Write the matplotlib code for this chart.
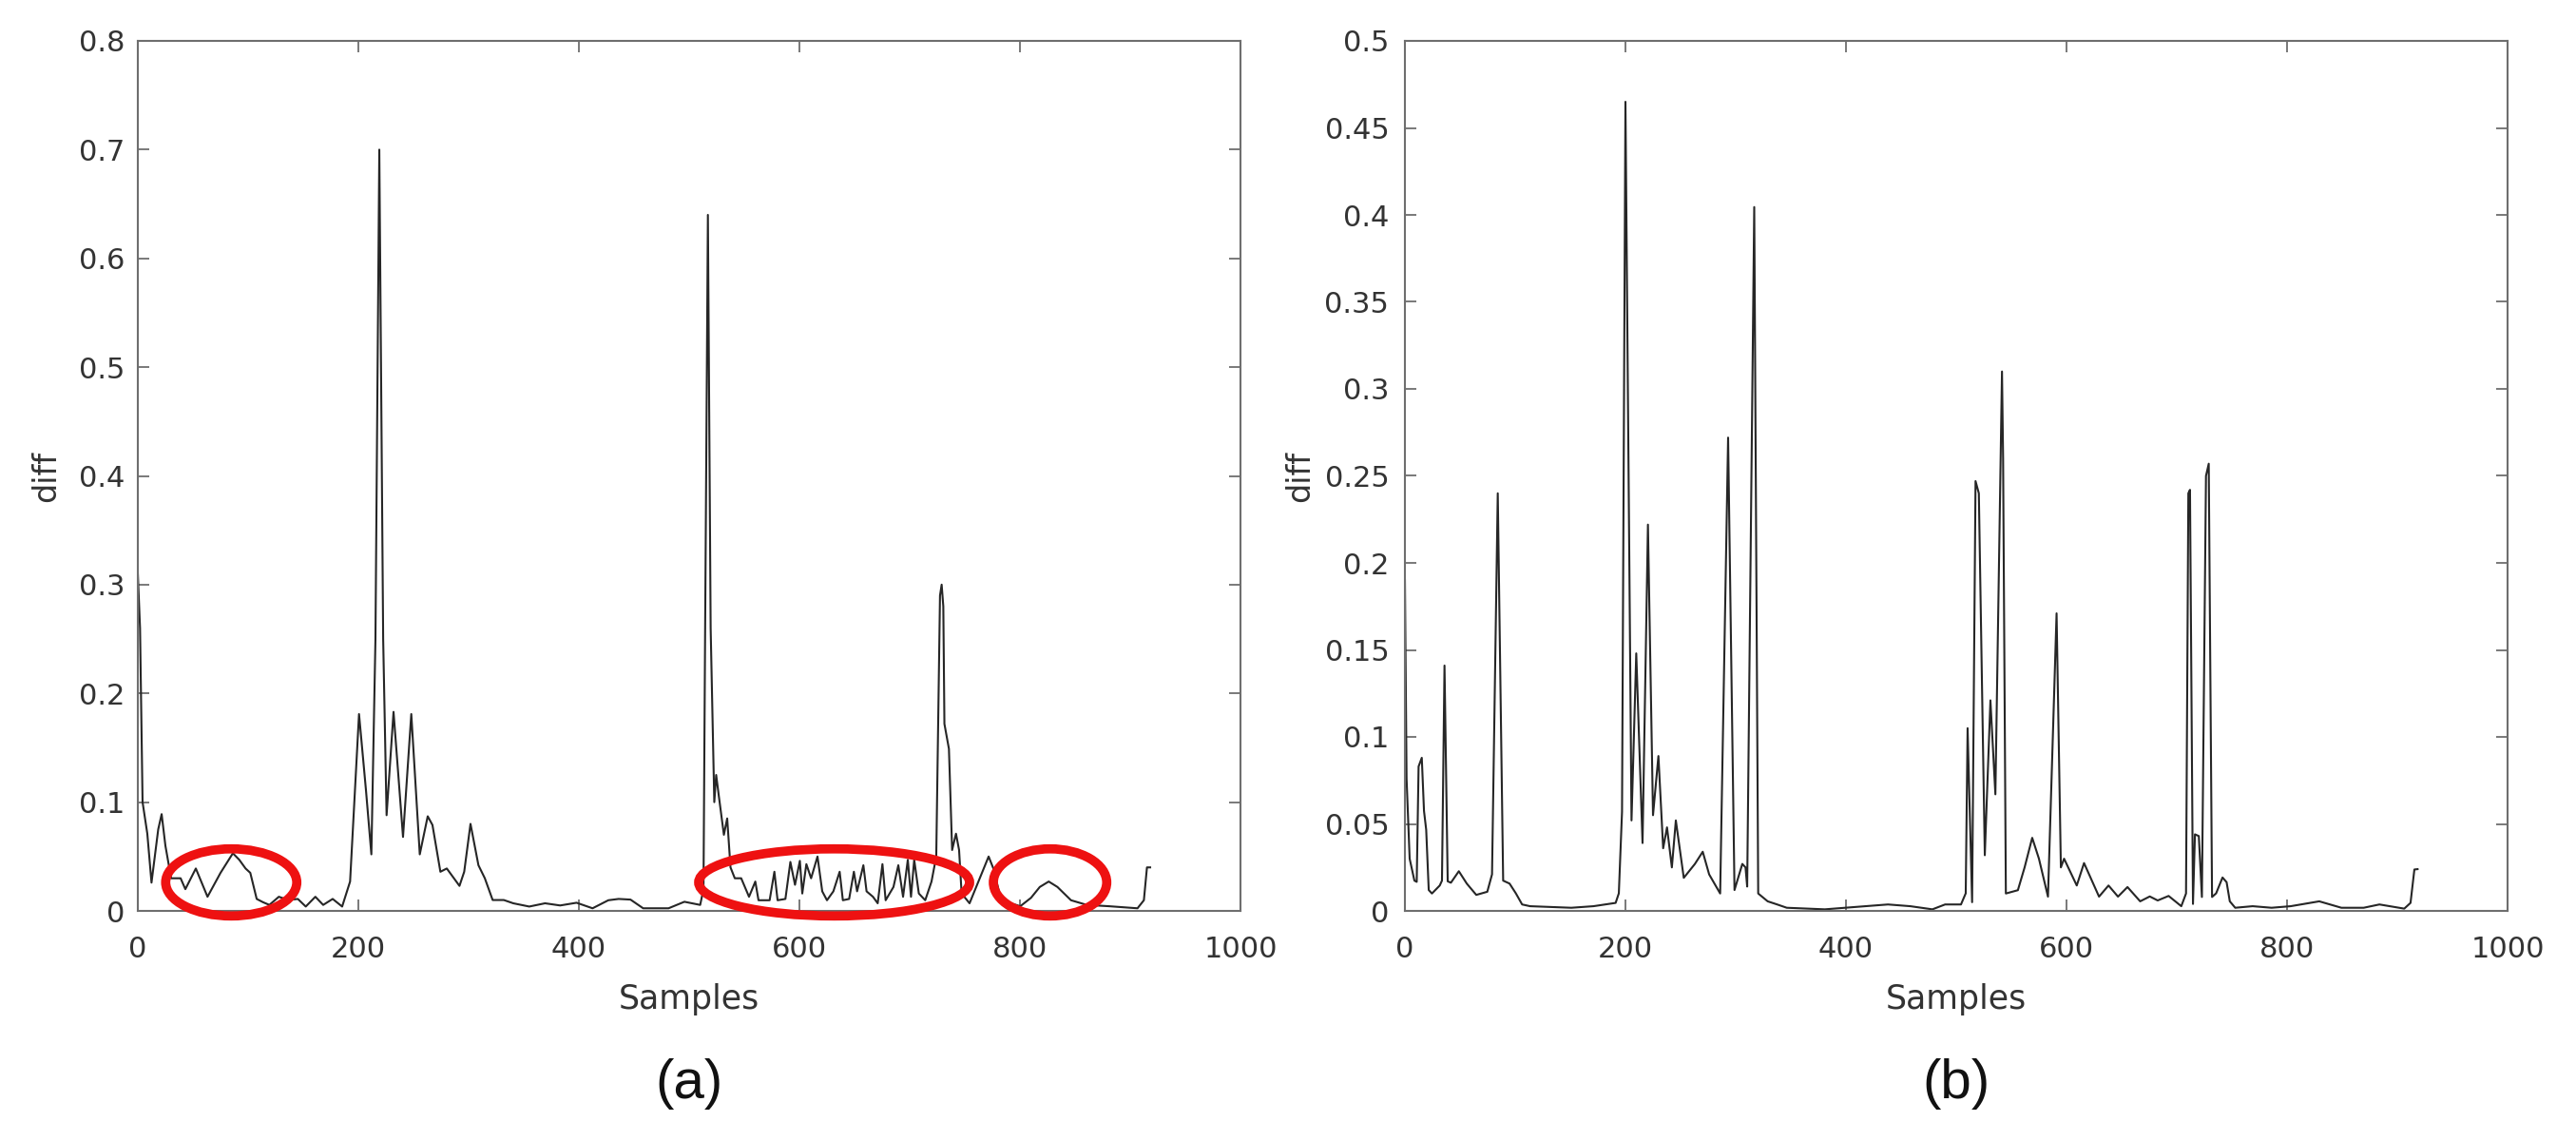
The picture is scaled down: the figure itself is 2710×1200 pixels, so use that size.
import matplotlib
matplotlib.use("Agg")
import matplotlib.pyplot as plt
from matplotlib.patches import Ellipse
from matplotlib.ticker import FuncFormatter, MultipleLocator

# panel (a): diff vs samples
a_samples = [0, 2, 4.3, 8.6, 12.4, 18.5, 21.6, 25, 30.2, 38.8, 43.1, 52.6, 63.2, 75, 86.2, 92,
             97.7, 102, 107.8, 113.5, 119.3, 127.9, 136.5, 145.1, 152.3, 161, 168.1, 176.7,
             185.3, 192.5, 196.8, 200.6, 206.9, 211.8, 215.5, 219, 222.5, 225.6, 231.9, 240.5,
             248, 255.7, 262.9, 267.2, 274.4, 280.2, 291.7, 296, 301.7, 308.9, 314.7, 321.8,
             331.9, 340.5, 355, 369.3, 383, 397.9, 412.4, 426.7, 436, 446.8, 458.3, 481.3,
             495.7, 510, 513, 514.5, 517, 519.5, 522.8, 524.5, 527, 531.5, 534.5, 537.5, 541.4,
             547.2, 554.3, 560, 562.9, 573, 577.3, 580.2, 587.3, 591.8, 596, 600.4, 602.6,
             606.3, 610.6, 616.4, 620.7, 625, 630.8, 636.5, 639.4, 645.1, 649.4, 652.3, 658,
             660.9, 666.7, 671, 675.3, 678.2, 685.3, 689.7, 694, 698.3, 701.2, 704.1, 708.3,
             714.1, 719.8, 724.1, 727.5, 729, 730.5, 731.5, 735.6, 738.5, 742, 744.8, 747.1,
             754.3, 771.6, 775.9, 783, 800.3, 810, 818, 826.1, 834, 846.3, 860.6, 880.7, 906.6,
             912.4, 915.2, 918.1]
a_diff = [0.31, 0.26, 0.10, 0.071, 0.026, 0.075, 0.089, 0.06, 0.030, 0.030, 0.020, 0.039, 0.013,
          0.035, 0.053, 0.047, 0.039, 0.035, 0.011, 0.008, 0.0055, 0.013, 0.010, 0.011, 0.004,
          0.013, 0.0055, 0.011, 0.004, 0.027, 0.108, 0.181, 0.111, 0.052, 0.25, 0.70, 0.25,
          0.088, 0.183, 0.068, 0.181, 0.052, 0.087, 0.079, 0.036, 0.039, 0.023, 0.036, 0.080,
          0.042, 0.030, 0.010, 0.010, 0.007, 0.004, 0.007, 0.005, 0.0075, 0.0024, 0.0098,
          0.011, 0.0104, 0.0024, 0.0024, 0.0084, 0.0055, 0.02, 0.26, 0.64, 0.26, 0.100, 0.125,
          0.105, 0.070, 0.085, 0.040, 0.030, 0.030, 0.013, 0.027, 0.0098, 0.0098, 0.036,
          0.0098, 0.011, 0.045, 0.024, 0.046, 0.016, 0.043, 0.030, 0.050, 0.018, 0.0098, 0.018,
          0.036, 0.0098, 0.011, 0.036, 0.018, 0.042, 0.018, 0.013, 0.007, 0.043, 0.0098, 0.022,
          0.042, 0.013, 0.047, 0.013, 0.047, 0.016, 0.0098, 0.027, 0.05, 0.29, 0.30, 0.28,
          0.172, 0.149, 0.056, 0.071, 0.056, 0.016, 0.007, 0.05, 0.039, 0.0098, 0.0043, 0.012,
          0.022, 0.027, 0.022, 0.0098, 0.0055, 0.0043, 0.0024, 0.0098, 0.040, 0.040]

# panel (b): diff vs samples
b_samples = [0, 1.5, 4.3, 8.6, 10.7, 12.4, 15.3, 17.3, 19.3, 21.6, 24.5, 31.6, 33.6, 35.9, 38.8,
             41.7, 48.9, 56.1, 64.7, 74.7, 79, 84.2, 89.1, 94.9, 100.6, 106.3, 113.5, 150.9,
             171, 191.1, 194, 196.9, 200, 205.5, 209.8, 215.5, 220.4, 225, 229.9, 234.2, 237.7,
             242.1, 245.7, 252.9, 263, 270.1, 275.9, 285.9, 293.1, 298.9, 306, 308.9, 310.4,
             316.8, 320.4, 329, 337.6, 346.3, 380.8, 438.1, 458.3, 478.4, 489.9, 504.3, 508.6,
             510.3, 514.4, 517.5, 520.5, 525.9, 531, 535.5, 541.5, 542.5, 545, 555.9, 562,
             568.9, 575, 583.2, 591, 594.9, 597.8, 609.3, 615.9, 629.5, 638.1, 646.7, 655.3,
             666.8, 675.5, 682.7, 692.6, 704.1, 708.4, 710.5, 712, 714.7, 716.5, 720, 722.8,
             726.5, 729, 732, 735.7, 741.5, 745.2, 748.1, 753, 768.8, 786, 803.3, 829.2, 849.3,
             869.5, 883.8, 906.3, 912, 915.5, 918.4]
b_diff = [0.19, 0.076, 0.030, 0.0174, 0.0167, 0.083, 0.088, 0.0575, 0.0466, 0.012, 0.010, 0.0146,
          0.0174, 0.141, 0.017, 0.0162, 0.0228, 0.0157, 0.0092, 0.011, 0.021, 0.24, 0.0174,
          0.0157, 0.0101, 0.0037, 0.0027, 0.0018, 0.0027, 0.0046, 0.0101, 0.057, 0.465, 0.052,
          0.148, 0.039, 0.222, 0.055, 0.089, 0.036, 0.048, 0.025, 0.052, 0.019, 0.027, 0.034,
          0.021, 0.010, 0.272, 0.012, 0.027, 0.025, 0.014, 0.4045, 0.010, 0.0055, 0.0037,
          0.0018, 0.0009, 0.0037, 0.0027, 0.0009, 0.0037, 0.0037, 0.0101, 0.105, 0.005, 0.247,
          0.24, 0.032, 0.121, 0.067, 0.31, 0.26, 0.01, 0.0119, 0.025, 0.042, 0.03, 0.0082,
          0.171, 0.025, 0.030, 0.0146, 0.0275, 0.0082, 0.0146, 0.0082, 0.0137, 0.0055, 0.0083,
          0.006, 0.0086, 0.0027, 0.01, 0.24, 0.242, 0.004, 0.044, 0.043, 0.008, 0.25, 0.257,
          0.008, 0.0101, 0.0192, 0.0165, 0.0055, 0.0018, 0.0027, 0.0018, 0.0027, 0.0055,
          0.0018, 0.0018, 0.0037, 0.0013, 0.0046, 0.0238, 0.024]

# red ellipses marking the low-level regions in (a)
ring_x = [84.7, 631.5, 827.3]
ring_y = [0.0262, 0.0262, 0.0262]
ring_w = [118.9, 245.7, 102.8]
ring_h = [0.0617, 0.0617, 0.0617]

panel_names = ["(a)", "(b)"]
y_tops = [0.8, 0.5]
y_steps = [0.1, 0.05]

W, H = 2710, 1200
fig = plt.figure(figsize=(W / 100, H / 100), dpi=100)
ax_a = fig.add_axes([145 / W, 1 - 958 / H, 1160 / W, 915 / H])
ax_b = fig.add_axes([1478 / W, 1 - 958 / H, 1160 / W, 915 / H])

ax_a.plot(a_samples, a_diff, color="#262626", lw=1.5)
ax_b.plot(b_samples, b_diff, color="#262626", lw=1.5)

for cx, cy, w, h in zip(ring_x, ring_y, ring_w, ring_h):
    ax_a.add_patch(Ellipse((cx, cy), w, h, fill=False, edgecolor="#ee1111",
                           lw=7, clip_on=False, zorder=5))

axes = [ax_a, ax_b]
ylab_x = [-0.0686, -0.0807]
ypads = [9.5, 12]
for ax, ytop, ystep, yx, ypad, name in zip(axes, y_tops, y_steps, ylab_x, ypads, panel_names):
    ax.set_xlim(0, 1000)
    ax.set_ylim(0, ytop)
    ax.xaxis.set_major_locator(MultipleLocator(200))
    ax.yaxis.set_major_locator(MultipleLocator(ystep))
    ax.yaxis.set_major_formatter(FuncFormatter(lambda v, p: f"{v:g}"))
    ax.tick_params(direction="in", length=8.5, width=1.3, color="#6e6e6e",
                   labelcolor="#333333", labelsize=22, top=True, right=True)
    ax.tick_params(axis="x", pad=19)
    ax.tick_params(axis="y", pad=ypad)
    for sp in ax.spines.values():
        sp.set_color("#6e6e6e")
        sp.set_linewidth(1.5)
    ax.set_xlabel("Samples", fontsize=25, color="#333333")
    ax.xaxis.set_label_coords(0.5, -0.083)
    ax.set_ylabel("diff", fontsize=24, color="#333333")
    ax.yaxis.set_label_coords(yx, 0.5)
    pos = ax.get_position()
    fig.text(pos.x0 + pos.width / 2, 0.05, name, ha="center", va="center",
             fontsize=42, family="Liberation Sans", color="#111111")

fig.savefig("out.png", dpi=100, facecolor="white")
